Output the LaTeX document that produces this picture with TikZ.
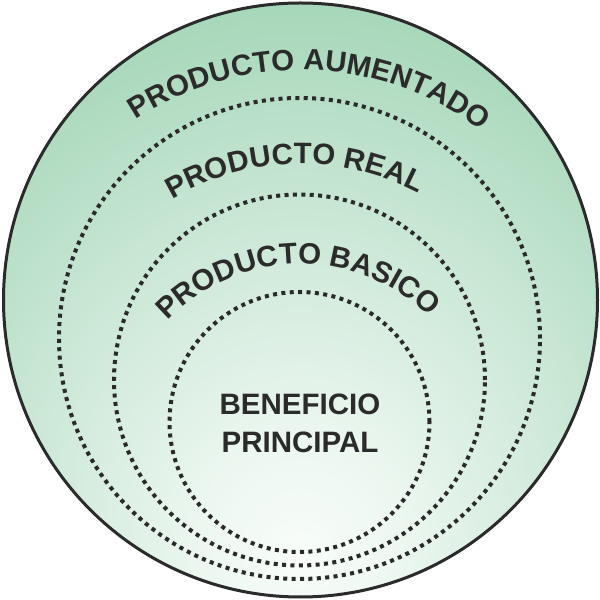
\documentclass[tikz,border=0pt]{standalone}
\usepackage{fontspec}
\usetikzlibrary{decorations.text,calc}
\newfontfamily\lsans{Liberation Sans}
\definecolor{ink}{HTML}{2B2B2B}
\definecolor{dotc}{HTML}{2A2A2A}
\definecolor{gA}{rgb}{0.975,0.992,0.98}
\definecolor{gB}{rgb}{0.93,0.97,0.945}
\definecolor{gC}{rgb}{0.79,0.905,0.835}
\definecolor{gD}{rgb}{0.61,0.825,0.695}
\pgfdeclareradialshading{bgfill}{\pgfpoint{0bp}{-22bp}}{color(0bp)=(gA); color(8bp)=(gB); color(24bp)=(gC); color(43bp)=(gD); color(100bp)=(gD)}
\newcommand\arcfont{\lsans\bfseries\fontsize{29.5}{29.5}\selectfont\color{ink}}
\begin{document}
\begin{tikzpicture}[x=1pt,y=1pt,
  dotline/.style={draw=dotc, line width=4pt, dash pattern=on 4pt off 4.4pt},
  textarc/.style={decorate, decoration={text along path, text align=center}}]
\useasboundingbox (0,0) rectangle (600,600);
\coordinate (o) at (300.5,300);
\shade[shading=bgfill] (o) circle[radius=297pt];
\draw[draw=ink, line width=3pt] (o) circle[radius=297pt];
\coordinate (d1) at (299.5,261.5);
\coordinate (d2) at (299.5,220);
\coordinate (d3) at (299.5,178);
\draw[dotline] (d1) circle[radius=240.5pt];
\draw[dotline] (d2) circle[radius=185.5pt];
\draw[dotline] (d3) circle[radius=130pt];
\coordinate (ta) at (301,230);
\coordinate (tb) at (301,184);
\coordinate (tc) at (301,152);
\path[textarc, decoration={text={|\arcfont|PRODUCTO AUMENTADO}}]
  ($(ta)+(158.2:300pt)$) arc[start angle=158.2, end angle=18.2, radius=300pt];
\path[textarc, decoration={text={|\arcfont|PRODUCTO REAL}}]
  ($(tb)+(161.5:252pt)$) arc[start angle=161.5, end angle=21.5, radius=252pt];
\path[textarc, decoration={text={|\arcfont|PRODUCTO BASICO}}]
  ($(tc)+(166:184pt)$) arc[start angle=166, end angle=16, radius=184pt];
\node[font=\lsans\bfseries\fontsize{29.5}{38}\selectfont, text=ink, align=center, inner sep=0pt] (core) at (300,176.5) {BENEFICIO\\PRINCIPAL};
\end{tikzpicture}
\end{document}
